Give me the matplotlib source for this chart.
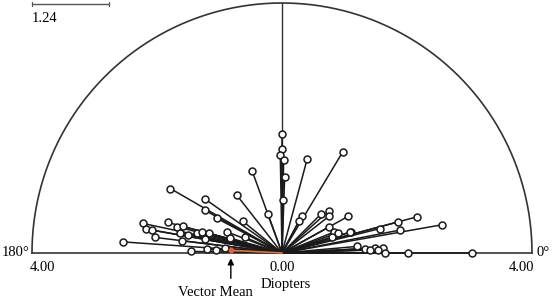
import numpy as np
import matplotlib.pyplot as plt

# astigmatism vectors: magnitude (D) and axis (deg)
mag = [1.90, 1.66, 1.57, 1.49, 1.22, 0.85, 1.56, 1.89, 1.40, 1.18,
       2.06, 1.51, 1.41, 1.18, 0.81, 0.66, 2.28, 2.21, 2.11, 1.89,
       1.73, 1.64, 2.05, 2.55, 1.66, 1.53, 1.40, 1.32, 1.21, 1.61,
       1.25, 0.94, 0.87, 0.65, 1.46, 1.20, 1.06, 0.92,
       0.67, 0.58, 0.88, 1.01, 0.96, 1.21, 0.86, 0.90, 0.95, 1.15,
       0.84, 1.20, 2.24, 1.92, 1.61, 1.92, 2.60, 1.14, 1.33, 1.49,
       1.62, 1.54, 1.65, 2.02, 3.04, 1.41]
axis = [90, 90, 91, 89, 88, 89, 75, 59, 110, 128,
        150, 145, 151, 152, 141, 110, 168, 170, 170, 165,
        166, 165, 173, 176, 169, 169, 167, 165, 165, 173,
        170, 159, 164, 157, 179, 177, 177, 175,
        62, 62, 45, 42, 38, 29, 29, 22, 20, 17,
        18, 5, 15, 15, 14, 11, 10, 17, 3, 3,
        3, 2, 0, 0, 0, 2]
mean_mag = 0.82
mean_axis = 177
r_max = 4.0
scale_bar = 1.24

serif = 'Liberation Serif'

fig = plt.figure(figsize=(5.52, 2.99), dpi=100)
ax = fig.add_axes([0, 0, 1, 1])
ax.set_xlim(-4.512, 4.32)
ax.set_ylim(-0.736, 4.048)
ax.axis('off')

# frame: semicircle, baseline, vertical
t = np.linspace(0, np.pi, 400)
ax.plot(r_max * np.cos(t), r_max * np.sin(t), color='#333333', lw=1.2)
ax.plot([-r_max, r_max], [0, 0], color='#333333', lw=1.2)
ax.plot([0, 0], [0, r_max], color='#333333', lw=1.0)

th = np.deg2rad(np.array(axis))
xs = np.array(mag) * np.cos(th)
ys = np.array(mag) * np.sin(th)
for x, y in zip(xs, ys):
    ax.plot([0, x], [0, y], color='#1a1a1a', lw=1.1, zorder=2)
ax.plot(xs, ys, 'o', ms=5, mfc='white', mec='#1a1a1a', mew=1.1, zorder=3)

# vector mean
mx = mean_mag * np.cos(np.deg2rad(mean_axis))
my = mean_mag * np.sin(np.deg2rad(mean_axis))
ax.plot([0, mx], [0, my], color='#e8703a', lw=1.2, zorder=4)
ax.plot(mx, my, 'o', ms=3, color='#e8603a', zorder=5)
ax.annotate('', xy=(mx, -0.04), xytext=(mx, -0.45),
            arrowprops=dict(arrowstyle='-|>', color='black', lw=1.0,
                            mutation_scale=9))

# scale bar
ax.plot([-4.0, -4.0 + scale_bar], [3.985, 3.985], color='#555555', lw=1.0)
ax.plot([-4.0, -4.0], [3.95, 4.02], color='#555555', lw=0.8)
ax.plot([-4.0 + scale_bar] * 2, [3.95, 4.02], color='#555555', lw=0.8)
ax.text(-4.0, 3.86, f'{scale_bar:.2f}', family=serif, fontsize=10.5, va='top', ha='left')

fs = 10.5
ax.text(-4.04, 0.0, '180°', family=serif, fontsize=fs, ha='right', va='center')
ax.text(4.07, 0.0, '0°', family=serif, fontsize=fs, ha='left', va='center')
ax.text(-3.83, -0.13, '4.00', family=serif, fontsize=fs, ha='center', va='top')
ax.text(0.0, -0.13, '0.00', family=serif, fontsize=fs, ha='center', va='top')
ax.text(3.83, -0.13, '4.00', family=serif, fontsize=fs, ha='center', va='top')
ax.text(0.06, -0.5, 'Diopters', family=serif, fontsize=fs, ha='center', va='center')
ax.text(-1.07, -0.64, 'Vector Mean', family=serif, fontsize=fs, ha='center', va='center')

fig.savefig('out.png', dpi=100)
